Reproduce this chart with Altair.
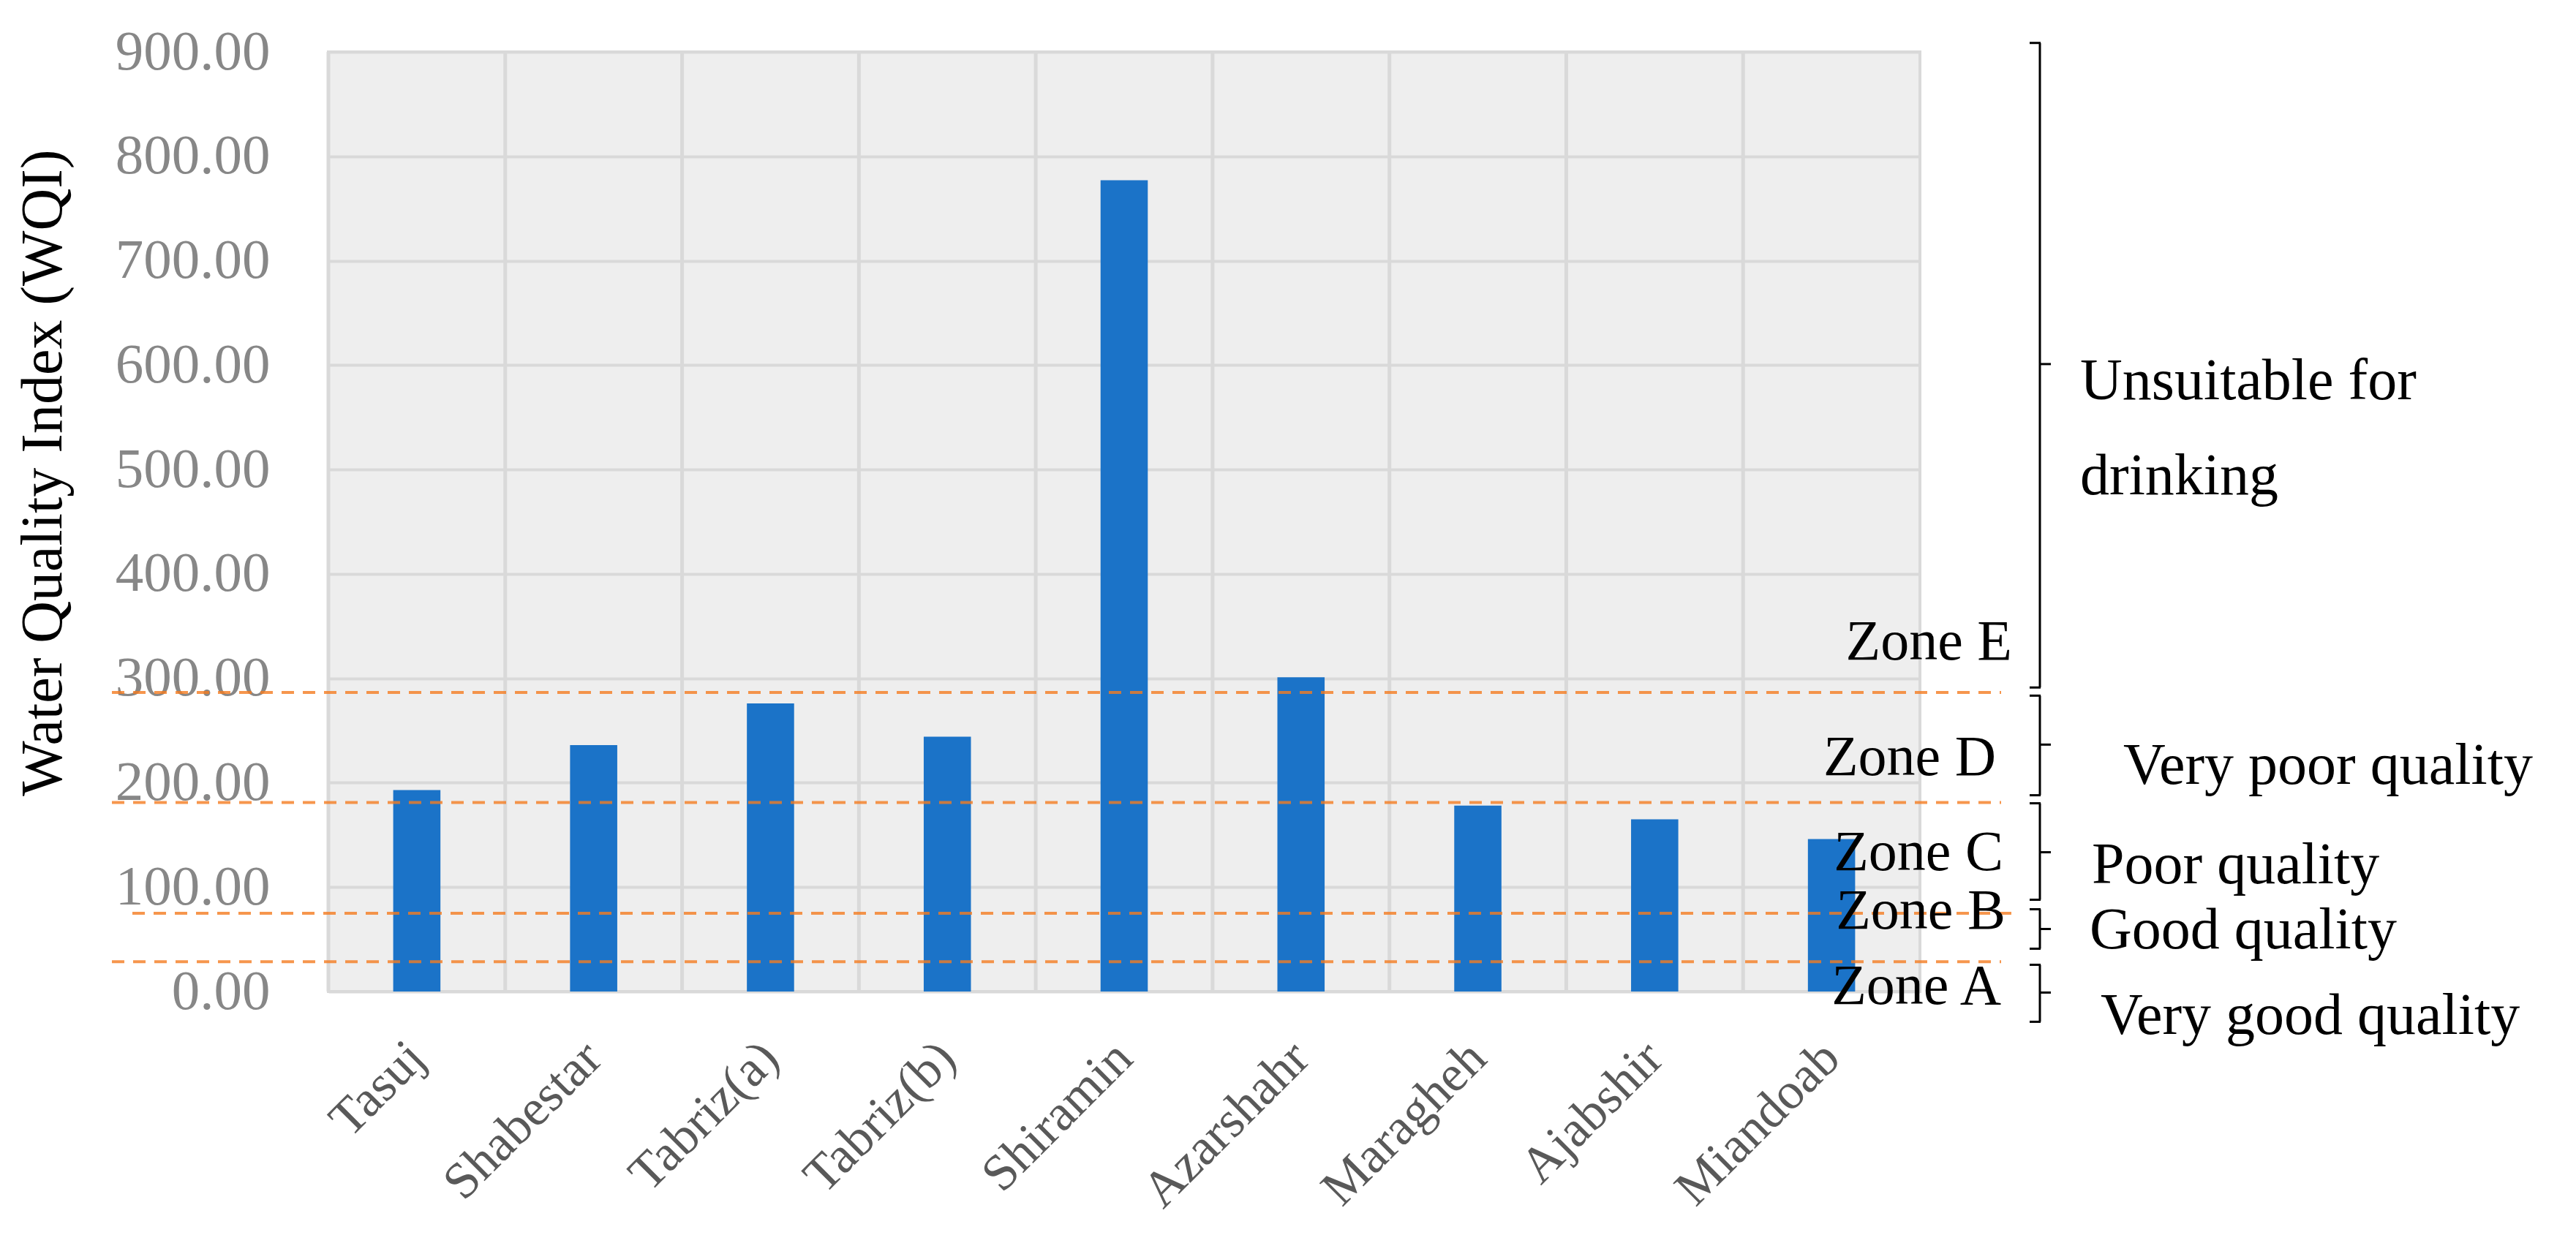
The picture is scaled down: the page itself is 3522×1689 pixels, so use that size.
import altair as alt
import pandas as pd

# ---------------- data ----------------
sites = ["Tasuj", "Shabestar", "Tabriz(a)", "Tabriz(b)", "Shiramin",
         "Azarshahr", "Maragheh", "Ajabshir", "Miandoab"]
wqi = [193, 236, 276, 244, 777, 301, 178, 165, 146]

# dashed zone boundaries (as drawn)
zone_bounds = [286.5, 181, 75, 28.5]

zone_names = ["Zone E", "Zone D", "Zone C", "Zone B", "Zone A"]
brace_top = [908.6, 283.4, 180.3, 78.8, 25.6]
brace_bottom = [291.2, 188.0, 87.9, 41.0, -29.0]
brace_tip = [601.0, 236.5, 133.4, 59.9, -1.0]

quality_text = ["Unsuitable for", "drinking", "Very poor quality",
                "Poor quality", "Good quality", "Very good quality"]

# ---------------- layout constants ----------------
W, H = 2176, 1285
FONT = "Liberation Serif"
zone_label_y = [318, 207, 116, 60, -12]
zone_label_x = [2302, 2280, 2290, 2293, 2287]
quality_y = [567, 476.5, 199, 103.6, 41, -40.3]
quality_x = [2395, 2395, 2454, 2411, 2408, 2423]
line_x1 = [-296, -296, -268, -296]
line_x2 = [2287, 2287, 2309, 2287]
BRACE_X = 2340

yscale = alt.Scale(domain=[0, 900], nice=False, zero=True)
xscale = alt.Scale(paddingInner=0, paddingOuter=0)

xaxis = alt.Axis(title=None, labelAngle=-45, labelAlign="right",
                 labelBaseline="middle", labelFontSize=70,
                 labelFont=FONT, labelColor="#595959", labelLimit=2000,
                 labelPadding=80, ticks=False, domain=False, grid=False)
yaxis = alt.Axis(values=list(range(0, 901, 100)), format=".2f",
                 labelFontSize=77, labelFont=FONT, labelColor="#878787",
                 labelLimit=2000, labelPadding=80, ticks=False, domain=False,
                 grid=True, gridColor="#d9d9d9", gridWidth=4,
                 title="Water Quality Index (WQI)", titleFont=FONT,
                 titleFontSize=80, titleFontWeight="normal",
                 titleColor="black", titleAngle=270,
                 titleX=-366, titleY=575, titleAlign="center",
                 titleBaseline="alphabetic")


def Y(field):
    return alt.Y(field, scale=yscale, axis=yaxis)


bars_df = pd.DataFrame({"site": sites, "wqi": wqi})
zones_df = pd.DataFrame({"name": zone_names, "top": brace_top,
                         "bottom": brace_bottom, "tip": brace_tip})

vgrid = alt.Chart(bars_df).mark_rule(color="#d9d9d9", strokeWidth=5).encode(
    x=alt.X("site:N", sort=sites, bandPosition=0, scale=xscale, axis=xaxis)
)

bars = alt.Chart(bars_df).mark_bar(color="#1B73C8", width={"band": 0.267}).encode(
    x=alt.X("site:N", sort=sites, scale=xscale, axis=xaxis),
    y=Y("wqi:Q"),
)

layers = [vgrid, bars]

for v, x1, x2 in zip(zone_bounds, line_x1, line_x2):
    layers.append(
        alt.Chart(pd.DataFrame({"v": [v]})).mark_rule(
            color="#F47C20", opacity=0.8, strokeWidth=4, strokeDash=[17, 12]
        ).encode(x=alt.value(x1), x2=alt.value(x2), y=Y("v:Q"))
    )

rule_style = dict(color="black", strokeWidth=3)
layers.append(alt.Chart(zones_df).mark_rule(**rule_style).encode(
    x=alt.value(BRACE_X), y=Y("top:Q"), y2="bottom:Q"))
layers.append(alt.Chart(zones_df).mark_rule(**rule_style).encode(
    x=alt.value(BRACE_X - 14), x2=alt.value(BRACE_X + 1), y=Y("top:Q")))
layers.append(alt.Chart(zones_df).mark_rule(**rule_style).encode(
    x=alt.value(BRACE_X - 14), x2=alt.value(BRACE_X + 1), y=Y("bottom:Q")))
layers.append(alt.Chart(zones_df).mark_rule(**rule_style).encode(
    x=alt.value(BRACE_X), x2=alt.value(BRACE_X + 15), y=Y("tip:Q")))

for name, yv, px in zip(zone_names, zone_label_y, zone_label_x):
    layers.append(
        alt.Chart(pd.DataFrame({"t": [name], "y": [yv]})).mark_text(
            font=FONT, fontSize=78, color="black", align="right",
            baseline="alphabetic"
        ).encode(x=alt.value(px), y=Y("y:Q"), text="t:N")
    )

for txt, yv, px in zip(quality_text, quality_y, quality_x):
    layers.append(
        alt.Chart(pd.DataFrame({"t": [txt], "y": [yv]})).mark_text(
            font=FONT, fontSize=80, color="black", align="left",
            baseline="alphabetic"
        ).encode(x=alt.value(px), y=Y("y:Q"), text="t:N")
    )

chart = alt.layer(*layers).properties(
    width=W, height=H,
    autosize=alt.AutoSizeParams(type="none"),
    padding={"left": 441, "top": 63, "right": 880, "bottom": 315},
    background="white",
).configure_view(
    fill="#eeeeee", stroke="#d9d9d9", strokeWidth=4
)

chart.save("out.html", embed_options={"renderer": "svg", "actions": False})
